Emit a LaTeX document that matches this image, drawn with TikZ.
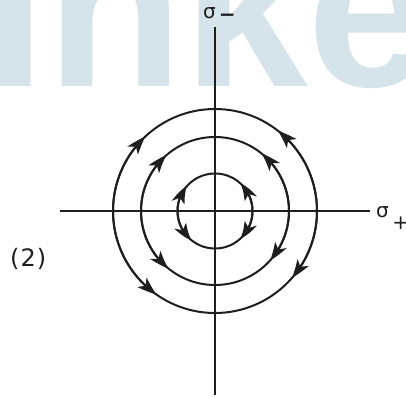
\documentclass[tikz,border=0pt]{standalone}
\usepackage{fontspec}
\setmainfont{DejaVu Sans}
\newfontfamily\wmfont{Liberation Sans}
\usetikzlibrary{arrows.meta,bending}
\definecolor{wm}{RGB}{213,227,234}
\definecolor{ink}{RGB}{30,30,30}
\tikzset{
  axisline/.style={draw=ink, line width=2.4pt},
  orbit/.style={draw=ink, line width=2pt},
  flow/.style={draw=ink, line width=2pt, -{Stealth[length=19pt,width=13pt,inset=5pt,bend]}},
  lbl/.style={anchor=base west, inner sep=0pt, text=ink, font=\fontsize{20}{20}\selectfont}
}
\begin{document}
\begin{tikzpicture}[x=1pt,y=1pt]
\useasboundingbox (0,-396) rectangle (406,0);
\begin{scope}
\clip (0,-396) rectangle (406,0);
\node[anchor=base west, inner sep=0pt, text=wm, font=\wmfont\bfseries\fontsize{224}{224}\selectfont] (wmark) at (-16,-86) {inke};
\end{scope}
\coordinate (O) at (215,-211);
\coordinate (hl) at (60,-211);
\coordinate (hr) at (370,-211);
\coordinate (vt) at (215,-27);
\coordinate (vb) at (215,-395);
\draw[axisline] (hl) -- (hr);
\draw[axisline] (vt) -- (vb);
% circles
\draw[orbit] (O) circle[radius=102];
\draw[orbit] (O) circle[radius=74];
\draw[orbit] (O) circle[radius=37.5];
% outer arrows
\draw[flow] (O) ++(180:102) arc[start angle=180, end angle=133, radius=102];
\draw[flow] (O) ++(0:102) arc[start angle=0, end angle=52, radius=102];
\draw[flow] (O) ++(180:102) arc[start angle=180, end angle=235, radius=102];
\draw[flow] (O) ++(0:102) arc[start angle=0, end angle=-41, radius=102];
% middle arrows
\draw[flow] (O) ++(180:74) arc[start angle=180, end angle=131, radius=74];
\draw[flow] (O) ++(0:74) arc[start angle=0, end angle=51, radius=74];
\draw[flow] (O) ++(180:74) arc[start angle=180, end angle=231, radius=74];
\draw[flow] (O) ++(0:74) arc[start angle=0, end angle=-42, radius=74];
% inner arrows
\draw[flow] (O) ++(180:37.5) arc[start angle=180, end angle=138, radius=37.5];
\draw[flow] (O) ++(0:37.5) arc[start angle=0, end angle=48, radius=37.5];
\draw[flow] (O) ++(180:37.5) arc[start angle=180, end angle=232, radius=37.5];
\draw[flow] (O) ++(0:37.5) arc[start angle=0, end angle=-48, radius=37.5];
% labels
\node[lbl] (sminus) at (203,-19) {σ\kern3pt\raisebox{-3pt}{\textbf{−}}};
\node[lbl] (splus) at (376,-217) {σ\kern3.5pt\raisebox{-12.5pt}{+}};
\node[lbl, font=\fontsize{24}{24}\selectfont] (two) at (10,-266) {(\kern1pt2\kern1pt)};
\end{tikzpicture}
\end{document}
